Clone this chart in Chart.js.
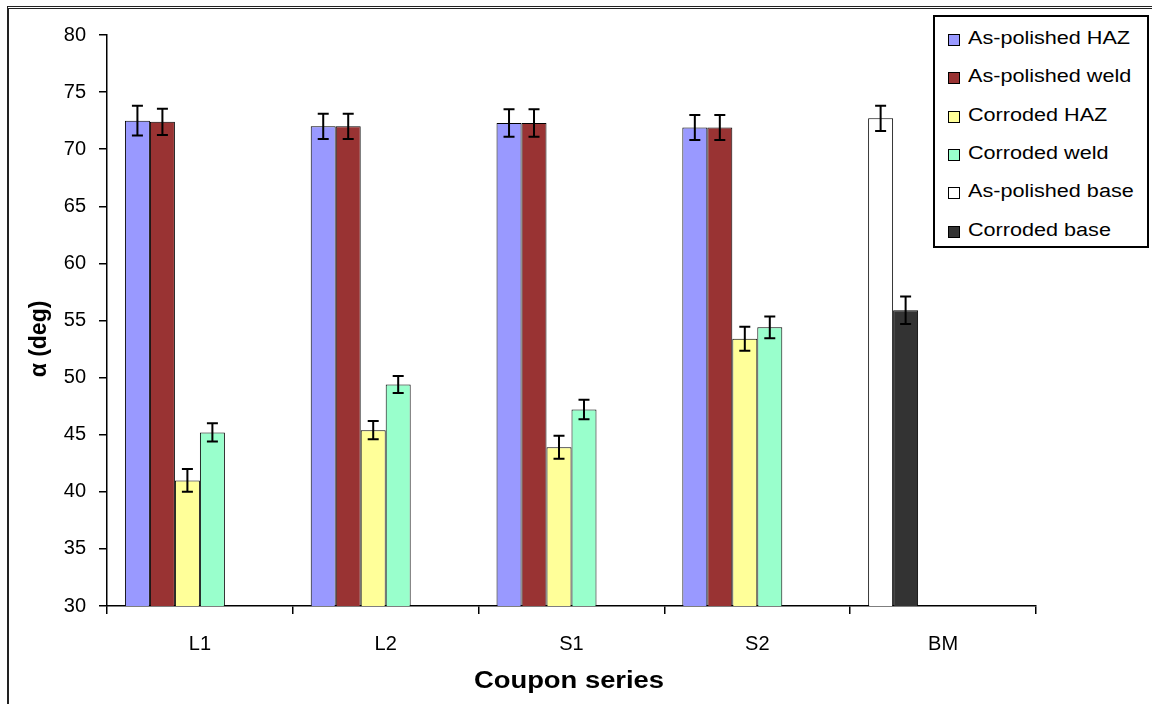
<!DOCTYPE html>
<html>
<head>
<meta charset="utf-8">
<script src="https://cdn.jsdelivr.net/npm/chart.js@4.4.0/dist/chart.umd.min.js"></script>
<style>
  html, body { margin: 0; padding: 0; background: #fff; }
  #wrap { position: relative; width: 1152px; height: 704px; overflow: hidden; }
  #frame { position: absolute; left: 7px; top: 6px; width: 1200px; height: 800px;
           border-left: 2px solid #222; border-top: 3px double #222; pointer-events: none; }
  #legend { position: absolute; left: 933px; top: 15px; width: 212px; height: 229px;
            border: 2px solid #000; background: #fff; font-family: "Liberation Sans", Arial, sans-serif; }
  .item { position: absolute; left: 13px; height: 20px; }
  .sw { position: absolute; left: 0; top: 4px; width: 10px; height: 10px; border: 1px solid #000; }
  .lbl { position: absolute; left: 20px; top: -2px; font-size: 18px; white-space: nowrap;
         transform: scaleX(1.2); transform-origin: left center; color: #000; }
</style>
</head>
<body>
<div id="wrap">
  <canvas id="chart" width="1152" height="704"></canvas>
  <div id="frame"></div>
  <div id="legend"></div>
</div>
<script>
// coupon series on the x axis
const categories = ['L1', 'L2', 'S1', 'S2', 'BM'];

// contact angle values (deg) and error bar half-heights
const apHaz = [72.5, 72.0, 72.3, 71.9, null];
const apHazErr = [1.3, 1.1, 1.2, 1.1, null];
const apWeld = [72.4, 72.0, 72.3, 71.9, null];
const apWeldErr = [1.15, 1.1, 1.2, 1.1, null];
const corHaz = [41.0, 45.4, 43.9, 53.4, null];
const corHazErr = [1.0, 0.8, 1.0, 1.05, null];
const corWeld = [45.2, 49.4, 47.2, 54.4, null];
const corWeldErr = [0.8, 0.75, 0.85, 0.95, null];
const apBase = [null, null, null, null, 72.7];
const apBaseErr = [null, null, null, null, 1.1];
const corBase = [null, null, null, null, 55.9];
const corBaseErr = [null, null, null, null, 1.2];

const yTicks = { min: 30, max: 80, step: 5 };

const series = [
    { label: 'As-polished HAZ', data: apHaz, err: apHazErr, color: '#9999FF', stack: 's1' },
    { label: 'As-polished weld', data: apWeld, err: apWeldErr, color: '#993333', stack: 's2' },
    { label: 'Corroded HAZ', data: corHaz, err: corHazErr, color: '#FFFF99', stack: 's3' },
    { label: 'Corroded weld', data: corWeld, err: corWeldErr, color: '#99FFCC', stack: 's4' },
    { label: 'As-polished base', data: apBase, err: apBaseErr, color: '#FFFFFF', stack: 's1' },
    { label: 'Corroded base', data: corBase, err: corBaseErr, color: '#333333', stack: 's2' }
];

const datasets = series.map(s => ({
    label: s.label,
    data: s.data,
    errors: s.err,
    backgroundColor: s.color,
    borderColor: '#000',
    borderWidth: 1,
    stack: s.stack
}));
// two empty slots so each group keeps six bar positions like the original
datasets.push({ label: '', data: categories.map(() => null), stack: 's5' });
datasets.push({ label: '', data: categories.map(() => null), stack: 's6' });

// html legend
const legendEl = document.getElementById('legend');
series.forEach((s, i) => {
    const item = document.createElement('div');
    item.className = 'item';
    item.style.top = (13 + i * 38.3) + 'px';
    item.innerHTML = '<div class="sw" style="background:' + s.color + '"></div><div class="lbl">' + s.label + '</div>';
    legendEl.appendChild(item);
});

const errorBars = {
    id: 'errorBars',
    afterDatasetsDraw(chart) {
        const ctx = chart.ctx;
        const y = chart.scales.y;
        ctx.save();
        ctx.strokeStyle = '#000';
        ctx.lineWidth = 2;
        chart.data.datasets.forEach((ds, di) => {
            if (!ds.errors) return;
            const meta = chart.getDatasetMeta(di);
            meta.data.forEach((bar, i) => {
                const v = ds.data[i], e = ds.errors[i];
                if (v == null || e == null) return;
                const yTop = y.getPixelForValue(v + e);
                const yBot = y.getPixelForValue(v - e);
                const half = 5.5;
                ctx.beginPath();
                ctx.moveTo(bar.x, yTop); ctx.lineTo(bar.x, yBot);
                ctx.moveTo(bar.x - half, yTop); ctx.lineTo(bar.x + half, yTop);
                ctx.moveTo(bar.x - half, yBot); ctx.lineTo(bar.x + half, yBot);
                ctx.stroke();
            });
        });
        ctx.restore();
    }
};

// axis titles drawn by hand so the wide lettering of the original can be kept
const axisTitles = {
    id: 'axisTitles',
    afterDraw(chart) {
        const ctx = chart.ctx;
        ctx.save();
        ctx.fillStyle = '#000';
        ctx.font = 'bold 23px "Liberation Sans", Arial, sans-serif';
        ctx.textAlign = 'center';
        ctx.textBaseline = 'middle';
        ctx.save();
        ctx.translate(569, 682);
        ctx.scale(1.19, 1);
        ctx.fillText('Coupon series', 0, 0);
        ctx.restore();
        ctx.save();
        ctx.translate(40, 339);
        ctx.rotate(-Math.PI / 2);
        ctx.fillText('\u03B1 (deg)', 0, 0);
        ctx.restore();
        ctx.restore();
    }
};

const tickFont = { family: '"Liberation Sans", Arial, sans-serif', size: 20 };

new Chart(document.getElementById('chart'), {
    type: 'bar',
    data: { labels: categories, datasets: datasets },
    options: {
        responsive: false,
        animation: false,
        events: [],
        categoryPercentage: 0.807,
        barPercentage: 1,
        layout: { padding: { left: 0, top: 35, right: 116, bottom: 0 } },
        plugins: { legend: { display: false }, tooltip: { enabled: false } },
        scales: {
            x: {
                grid: { display: true, drawOnChartArea: false, drawTicks: true, tickLength: 8, color: '#000', lineWidth: 1.5 },
                border: { display: true, color: '#000', width: 1.5 },
                ticks: { color: '#000', font: tickFont, padding: 18 },
                afterFit(scale) { scale.height = 98; }
            },
            y: {
                min: yTicks.min,
                max: yTicks.max,
                grid: { display: true, drawOnChartArea: false, drawTicks: true, tickLength: 8, color: '#000', lineWidth: 1.5 },
                border: { display: true, color: '#000', width: 1.5 },
                ticks: { color: '#000', font: tickFont, stepSize: yTicks.step, padding: 13 },
                afterFit(scale) { scale.width = 107; }
            }
        }
    },
    plugins: [errorBars, axisTitles]
});
</script>
</body>
</html>
